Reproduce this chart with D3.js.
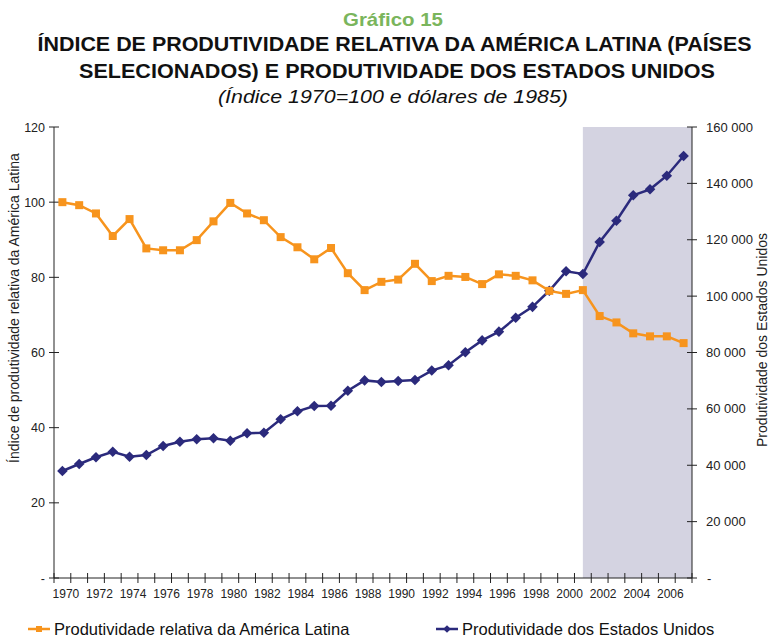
<!DOCTYPE html>
<html>
<head>
<meta charset="utf-8">
<script src="https://cdn.jsdelivr.net/npm/d3@7"></script>
<style>
  body { margin: 0; background: #fff; }
  text { font-family: "Liberation Sans", Arial, sans-serif; }
</style>
</head>
<body>
<div class="chart"></div>
<script>
// years on the category axis
const years = d3.range(1970, 2008);

// Latin America relative productivity index (1970 = 100), left axis
const latam = [100, 99.2, 97.0, 91.0, 95.5, 87.7, 87.2, 87.2, 89.9, 94.9,
               99.8, 97.0, 95.2, 90.7, 88.0, 84.8, 87.8, 81.1, 76.6, 78.8,
               79.4, 83.6, 79.0, 80.4, 80.1, 78.2, 80.8, 80.4, 79.2, 76.4,
               75.6, 76.6, 69.7, 68.0, 65.1, 64.3, 64.3, 62.5];

// US productivity (1985 dollars), right axis
const usa = [37960, 40440, 42850, 44810, 43030, 43640, 46830, 48360, 49200, 49560,
             48710, 51330, 51550, 56300, 59140, 61020, 61130, 66450, 70100, 69530,
             69890, 70240, 73600, 75500, 80100, 84300, 87400, 92300, 96200, 101900,
             108800, 107850, 119200, 126760, 135760, 137890, 142720, 149710];

const leftTicks = [0, 20, 40, 60, 80, 100, 120];
const rightTicks = [0, 20000, 40000, 60000, 80000, 100000, 120000, 140000, 160000];
const shadeFrom = 2001;

const W = 770, H = 636;
const margin = {top: 127, right: 78, bottom: 58, left: 54};

const orange = "#f7941d", navy = "#2b2a7c";

const svg = d3.select(".chart").append("svg")
    .attr("width", W)
    .attr("height", H);

const x = d3.scaleBand().domain(years).range([margin.left, W - margin.right]).padding(0);
const cx = d => x(d) + x.bandwidth() / 2;
const yL = d3.scaleLinear().domain([0, 120]).range([H - margin.bottom, margin.top]);
const yR = d3.scaleLinear().domain([0, 160000]).range([H - margin.bottom, margin.top]);

// titles (condensed look: Liberation Sans squeezed to the measured widths)
const titles = [
  {t: "Gráfico 15", x: 393, y: 26, len: 100, size: 19, weight: "bold", style: "normal", fill: "#7ab55c"},
  {t: "ÍNDICE DE PRODUTIVIDADE RELATIVA DA AMÉRICA LATINA (PAÍSES", x: 394.5, y: 51, len: 714, size: 20, weight: "bold", style: "normal", fill: "#111"},
  {t: "SELECIONADOS) E PRODUTIVIDADE DOS ESTADOS UNIDOS", x: 397, y: 78, len: 636, size: 20, weight: "bold", style: "normal", fill: "#111"},
  {t: "(Índice 1970=100 e dólares de 1985)", x: 393, y: 103, len: 350, size: 19, weight: "normal", style: "italic", fill: "#111"}
];
svg.selectAll(".ttl").data(titles).enter().append("text")
    .attr("x", d => d.x - d.len / 2).attr("y", d => d.y)
    .attr("textLength", d => d.len).attr("lengthAdjust", "spacingAndGlyphs")
    .style("font-size", d => d.size + "px")
    .style("font-weight", d => d.weight)
    .style("font-style", d => d.style)
    .style("fill", d => d.fill)
    .text(d => d.t);

// shaded period
svg.append("rect")
    .attr("x", cx(shadeFrom))
    .attr("y", margin.top)
    .attr("width", W - margin.right - cx(shadeFrom))
    .attr("height", H - margin.bottom - margin.top)
    .attr("fill", "#d4d3e1");

// axes
const axisG = svg.append("g").attr("stroke", "#222").attr("stroke-width", 1);
const x0 = margin.left, x1 = W - margin.right, yb = H - margin.bottom;
axisG.append("line").attr("x1", x0).attr("x2", x0).attr("y1", margin.top).attr("y2", yb);
axisG.append("line").attr("x1", x1).attr("x2", x1).attr("y1", margin.top).attr("y2", yb);
axisG.append("line").attr("x1", x0).attr("x2", x1).attr("y1", yb).attr("y2", yb);

axisG.selectAll(".tl").data(leftTicks).enter().append("line")
    .attr("x1", x0 - 5).attr("x2", x0 + 5)
    .attr("y1", d => yL(d)).attr("y2", d => yL(d));
axisG.selectAll(".tr").data(rightTicks).enter().append("line")
    .attr("x1", x1 - 5).attr("x2", x1 + 5)
    .attr("y1", d => yR(d)).attr("y2", d => yR(d));
axisG.selectAll(".tx").data(years.concat([2008])).enter().append("line")
    .attr("x1", d => d === 2008 ? x1 : x(d)).attr("x2", d => d === 2008 ? x1 : x(d))
    .attr("y1", yb - 5).attr("y2", yb + 5);

svg.selectAll(".ltl").data(leftTicks).enter().append("text")
    .attr("x", x0 - 9).attr("y", d => yL(d) + 4.5)
    .attr("text-anchor", "end").style("font-size", "12.5px").style("fill", "#222")
    .text(d => d === 0 ? "-" : d);
svg.selectAll(".rtl").data(rightTicks).enter().append("text")
    .attr("x", d => d === 0 ? x1 + 15 : x1 + 14).attr("y", d => yR(d) + 4.5)
    .attr("text-anchor", "start").style("font-size", "13px").style("fill", "#222")
    .text(d => d === 0 ? "-" : d3.format(",")(d).replace(/,/g, "\u00a0"));
svg.selectAll(".xtl").data(years.filter(d => d % 2 === 0)).enter().append("text")
    .attr("x", d => cx(d) + 3.5).attr("y", yb + 20)
    .attr("text-anchor", "middle").style("font-size", "12px").style("fill", "#222")
    .text(d => d);

svg.append("text")
    .attr("transform", "translate(19,308) rotate(-90)")
    .attr("text-anchor", "middle").style("font-size", "14px").style("fill", "#222")
    .text("Índice de produtividade relativa da América Latina");
svg.append("text")
    .attr("transform", "translate(767,340) rotate(-90)")
    .attr("text-anchor", "middle").style("font-size", "14px").style("fill", "#222")
    .text("Produtividade dos Estados Unidos");

// series
const lineL = d3.line().x((d, i) => cx(years[i])).y(d => yL(d));
const lineR = d3.line().x((d, i) => cx(years[i])).y(d => yR(d));

svg.append("path").attr("d", lineR(usa))
    .attr("fill", "none").attr("stroke", navy).attr("stroke-width", 2.5);
svg.selectAll(".dm").data(usa).enter().append("path")
    .attr("d", d3.symbol(d3.symbolSquare, 56))
    .attr("transform", (d, i) => "translate(" + cx(years[i]) + "," + yR(d) + ") rotate(45)")
    .attr("fill", navy);

svg.append("path").attr("d", lineL(latam))
    .attr("fill", "none").attr("stroke", orange).attr("stroke-width", 2.5);
svg.selectAll(".sq").data(latam).enter().append("rect")
    .attr("x", (d, i) => cx(years[i]) - 4).attr("y", d => yL(d) - 4)
    .attr("width", 8).attr("height", 8).attr("fill", orange);

// legend
const leg = [
  {label: "Produtividade relativa da América Latina", color: orange, x: 28, shape: "sq"},
  {label: "Produtividade dos Estados Unidos", color: navy, x: 436, shape: "dm"}
];
const lg = svg.selectAll(".leg").data(leg).enter().append("g")
    .attr("transform", d => "translate(" + d.x + ",629)");
lg.append("line").attr("x1", 0).attr("x2", 22).attr("y1", 0).attr("y2", 0)
    .attr("stroke", d => d.color).attr("stroke-width", 2.5);
lg.filter(d => d.shape === "sq").append("rect")
    .attr("x", 8).attr("y", -3).attr("width", 6).attr("height", 6).attr("fill", orange);
lg.filter(d => d.shape === "dm").append("path")
    .attr("d", d3.symbol(d3.symbolSquare, 30))
    .attr("transform", "translate(11,0) rotate(45)").attr("fill", navy);
lg.append("text").attr("x", 26).attr("y", 5.5)
    .style("font-size", "16.5px").style("fill", "#111")
    .text(d => d.label);
</script>
</body>
</html>
